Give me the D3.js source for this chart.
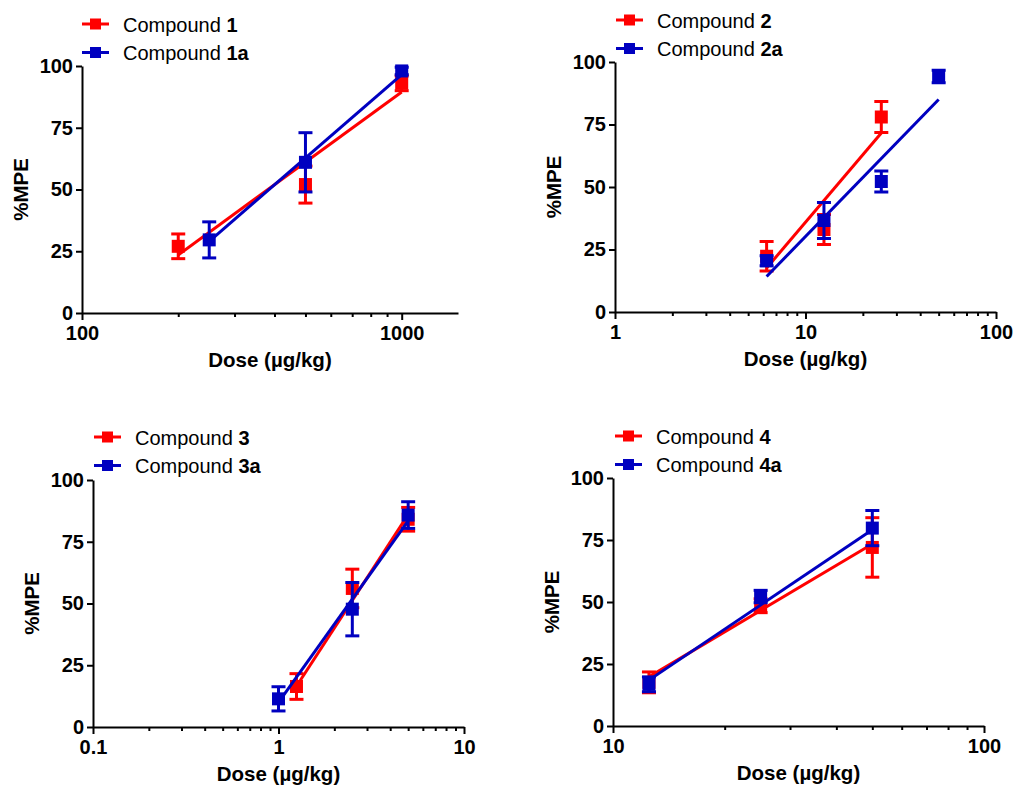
<!DOCTYPE html>
<html>
<head>
<meta charset="utf-8">
<script src="https://cdn.jsdelivr.net/npm/d3@7"></script>
<style>
  html, body { margin: 0; padding: 0; background: #fff; }
  svg { display: block; font-family: 'Liberation Sans', Arial, sans-serif; }
</style>
</head>
<body>
<svg id="chart" width="1017" height="787"></svg>
<script>
'use strict';
const RED = '#ff0000';
const BLUE = '#0000c0';
const Y_TICKS = [0, 25, 50, 75, 100];

// panel 1
const X_DOMAIN_1 = [100, 1500];
const X_TICKS_1 = [100, 1000];
const X_LABELS_1 = ['100', '1000'];
const DOSE_1 = [200, 500, 1000];
const MPE_1 = [27, 52, 93];
const SEM_1 = [5, 7.5, 3];
const FIT_1 = [23.5, 89.5];
const DOSE_1A = [250, 500, 1000];
const MPE_1A = [29.6, 61, 98];
const SEM_1A = [7.3, 12, 1.5];
const FIT_1A = [29, 96.5];

// panel 2
const X_DOMAIN_2 = [1, 100];
const X_TICKS_2 = [1, 10, 100];
const X_LABELS_2 = ['1', '10', '100'];
const DOSE_2 = [6.25, 12.5, 25];
const MPE_2 = [22.3, 33, 78];
const SEM_2 = [5.9, 6, 6.2];
const FIT_2 = [17.6, 71.6];
const DOSE_2A = [6.25, 12.5, 25, 50];
const MPE_2A = [20.5, 36.6, 52.2, 94.2];
const SEM_2A = [2, 7.2, 4.2, 2.5];
const FIT_2A = [14.2, 85];

// panel 3
const X_DOMAIN_3 = [0.1, 10];
const X_TICKS_3 = [0.1, 1, 10];
const X_LABELS_3 = ['0.1', '1', '10'];
const DOSE_3 = [1.25, 2.5, 5];
const MPE_3 = [16.4, 56.1, 84.1];
const SEM_3 = [5.2, 7.8, 4.8];
const FIT_3 = [16.5, 86];
const DOSE_3A = [1, 2.5, 5];
const MPE_3A = [11.4, 47.7, 85.8];
const SEM_3A = [4.9, 10.8, 5.4];
const FIT_3A = [10, 83.5];

// panel 4
const X_DOMAIN_4 = [10, 100];
const X_TICKS_4 = [10, 100];
const X_LABELS_4 = ['10', '100'];
const DOSE_4 = [12.5, 25, 50];
const MPE_4 = [17.6, 48.5, 72];
const SEM_4 = [4.2, 2.8, 12];
const FIT_4 = [19.8, 73.4];
const DOSE_4A = [12.5, 25, 50];
const MPE_4A = [16.8, 52.2, 79.8];
const SEM_4A = [3, 2.5, 7.1];
const FIT_4A = [18.5, 79.1];

const PANELS = [
  {
    box: { left: 82, right: 458, top: 66, bottom: 313, legendX: 82, legendY: 24 },
    domain: X_DOMAIN_1, ticks: X_TICKS_1, labels: X_LABELS_1,
    series: [
      { name: '1', color: RED, dose: DOSE_1, mpe: MPE_1, sem: SEM_1, fit: FIT_1 },
      { name: '1a', color: BLUE, dose: DOSE_1A, mpe: MPE_1A, sem: SEM_1A, fit: FIT_1A },
    ],
  },
  {
    box: { left: 615, right: 996, top: 62, bottom: 312, legendX: 616, legendY: 20 },
    domain: X_DOMAIN_2, ticks: X_TICKS_2, labels: X_LABELS_2,
    series: [
      { name: '2', color: RED, dose: DOSE_2, mpe: MPE_2, sem: SEM_2, fit: FIT_2 },
      { name: '2a', color: BLUE, dose: DOSE_2A, mpe: MPE_2A, sem: SEM_2A, fit: FIT_2A },
    ],
  },
  {
    box: { left: 93, right: 464, top: 480, bottom: 727, legendX: 94, legendY: 437 },
    domain: X_DOMAIN_3, ticks: X_TICKS_3, labels: X_LABELS_3,
    series: [
      { name: '3', color: RED, dose: DOSE_3, mpe: MPE_3, sem: SEM_3, fit: FIT_3 },
      { name: '3a', color: BLUE, dose: DOSE_3A, mpe: MPE_3A, sem: SEM_3A, fit: FIT_3A },
    ],
  },
  {
    box: { left: 613, right: 984, top: 478, bottom: 726, legendX: 615, legendY: 436 },
    domain: X_DOMAIN_4, ticks: X_TICKS_4, labels: X_LABELS_4,
    series: [
      { name: '4', color: RED, dose: DOSE_4, mpe: MPE_4, sem: SEM_4, fit: FIT_4 },
      { name: '4a', color: BLUE, dose: DOSE_4A, mpe: MPE_4A, sem: SEM_4A, fit: FIT_4A },
    ],
  },
];

const svg = d3.select('#chart');
PANELS.forEach(drawPanel);

function drawPanel(p) {
  const b = p.box;
  const g = svg.append('g');

  let x = d3.scaleLog().domain(p.domain).range([b.left, b.right]);
  let y = d3.scaleLinear().domain([0, 100]).range([b.bottom, b.top]);

  // minor ticks
  let minor = x.ticks().filter((t) => !p.ticks.some((m) => Math.abs(m - t) < 1e-9));
  g.append('g')
    .attr('transform', `translate(0,${b.bottom})`)
    .call(d3.axisBottom(x).tickValues(minor).tickSize(4).tickSizeOuter(0).tickFormat(''))
    .call((a) => a.select('.domain').remove())
    .call((a) => a.selectAll('.tick line').attr('stroke', '#000').attr('stroke-width', 2));

  // X axis
  g.append('g')
    .attr('transform', `translate(0,${b.bottom})`)
    .call(
      d3.axisBottom(x)
        .tickValues(p.ticks)
        .tickSize(7)
        .tickSizeOuter(0)
        .tickPadding(6)
        .tickFormat((d, i) => p.labels[i])
    )
    .call(styleAxis);

  // Y axis
  g.append('g')
    .attr('transform', `translate(${b.left},0)`)
    .call(d3.axisLeft(y).tickValues(Y_TICKS).tickSize(6).tickSizeOuter(0).tickPadding(3))
    .call(styleAxis);

  // axis titles
  g.append('text')
    .attr('x', (b.left + b.right) / 2)
    .attr('y', b.bottom + 54)
    .attr('text-anchor', 'middle')
    .attr('font-size', 20.5)
    .attr('font-weight', 'bold')
    .text('Dose (µg/kg)');

  g.append('text')
    .attr('transform', `translate(${b.left - 54.5},${(b.top + b.bottom) / 2}) rotate(-90)`)
    .attr('text-anchor', 'middle')
    .attr('font-size', 20.5)
    .attr('font-weight', 'bold')
    .text('%MPE');

  // series
  p.series.forEach((s) => {
    let sg = g.append('g').attr('fill', s.color).attr('stroke', s.color);
    let pts = s.dose.map((d, i) => ({ dose: d, mpe: s.mpe[i], sem: s.sem[i] }));

    sg.selectAll('.err')
      .data(pts)
      .enter()
      .append('line')
      .attr('x1', (d) => x(d.dose))
      .attr('x2', (d) => x(d.dose))
      .attr('y1', (d) => y(d.mpe - d.sem))
      .attr('y2', (d) => y(d.mpe + d.sem))
      .attr('stroke-width', 3);

    [-1, 1].forEach((sign) => {
      sg.selectAll('.cap')
        .data(pts)
        .enter()
        .append('line')
        .attr('x1', (d) => x(d.dose) - 7)
        .attr('x2', (d) => x(d.dose) + 7)
        .attr('y1', (d) => y(d.mpe + sign * d.sem))
        .attr('y2', (d) => y(d.mpe + sign * d.sem))
        .attr('stroke-width', 3);
    });

    sg.selectAll('rect')
      .data(pts)
      .enter()
      .append('rect')
      .attr('x', (d) => x(d.dose) - 6.5)
      .attr('y', (d) => y(d.mpe) - 6.5)
      .attr('width', 13)
      .attr('height', 13)
      .attr('stroke', 'none');

    let line = d3.line().x((d) => x(d[0])).y((d) => y(d[1]));
    sg.append('path')
      .datum([
        [s.dose[0], s.fit[0]],
        [s.dose[s.dose.length - 1], s.fit[1]],
      ])
      .attr('fill', 'none')
      .attr('stroke-width', 3)
      .attr('d', line);
  });

  // legend
  p.series.forEach((s, i) => {
    let ly = b.legendY + i * 28.5;
    let lg = g.append('g');
    lg.append('line')
      .attr('x1', b.legendX)
      .attr('x2', b.legendX + 27)
      .attr('y1', ly)
      .attr('y2', ly)
      .attr('stroke', s.color)
      .attr('stroke-width', 3);
    lg.append('rect')
      .attr('x', b.legendX + 8)
      .attr('y', ly - 5.5)
      .attr('width', 11)
      .attr('height', 11)
      .attr('fill', s.color);
    let t = lg.append('text')
      .attr('x', b.legendX + 41)
      .attr('y', ly + 7.5)
      .attr('font-size', 20);
    t.append('tspan').text('Compound ');
    t.append('tspan').attr('font-weight', 'bold').text(s.name);
  });
}

function styleAxis(a) {
  a.select('.domain').attr('stroke', '#000').attr('stroke-width', 2);
  a.selectAll('.tick line').attr('stroke', '#000').attr('stroke-width', 2);
  a.selectAll('.tick text')
    .attr('fill', '#000')
    .attr('font-size', 20)
    .attr('font-weight', 'bold')
    .attr('font-family', "'Liberation Sans', Arial, sans-serif");
}
</script>
</body>
</html>
